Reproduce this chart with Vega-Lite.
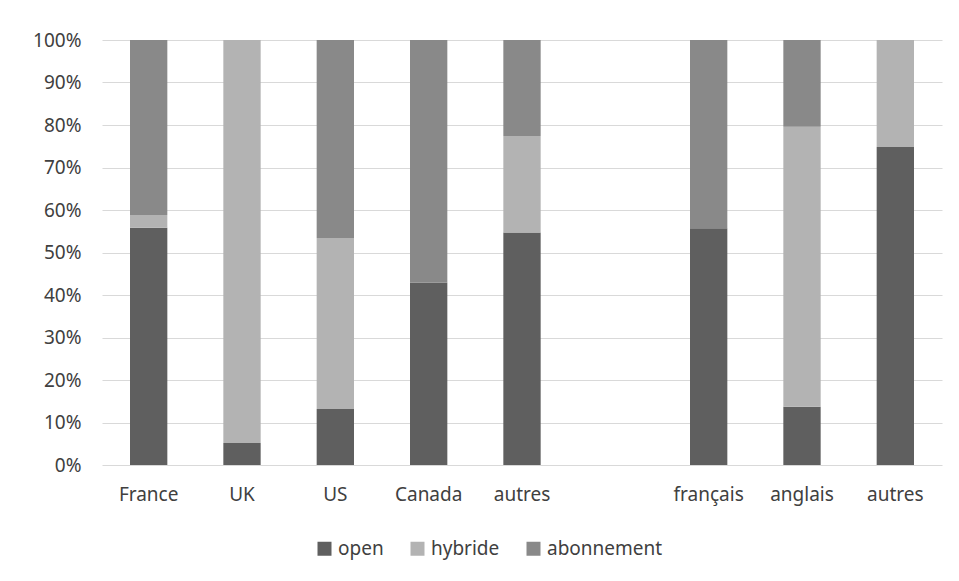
{
  "$schema": "https://vega.github.io/schema/vega-lite/v6.json",
  "width": 840,
  "height": 425,
  "autosize": {"type": "none"},
  "padding": {"left": 102, "top": 40, "right": 17, "bottom": 116},
  "background": "white",
  "config": {
    "view": {"stroke": null},
    "font": "Noto Sans",
    "axis": {"labelFont": "Noto Sans", "labelFontSize": 19, "labelColor": "#404040"},
    "legend": {"labelFont": "Noto Sans", "labelFontSize": 19, "labelColor": "#404040"}
  },
  "data": {
    "values": [
      {"cat": "France", "serie": "open", "k": 1, "v": 0.558},
      {"cat": "France", "serie": "hybride", "k": 2, "v": 0.030},
      {"cat": "France", "serie": "abonnement", "k": 3, "v": 0.412},
      {"cat": "UK", "serie": "open", "k": 1, "v": 0.052},
      {"cat": "UK", "serie": "hybride", "k": 2, "v": 0.948},
      {"cat": "UK", "serie": "abonnement", "k": 3, "v": 0.0},
      {"cat": "US", "serie": "open", "k": 1, "v": 0.132},
      {"cat": "US", "serie": "hybride", "k": 2, "v": 0.402},
      {"cat": "US", "serie": "abonnement", "k": 3, "v": 0.466},
      {"cat": "Canada", "serie": "open", "k": 1, "v": 0.429},
      {"cat": "Canada", "serie": "hybride", "k": 2, "v": 0.0},
      {"cat": "Canada", "serie": "abonnement", "k": 3, "v": 0.571},
      {"cat": "autres", "serie": "open", "k": 1, "v": 0.547},
      {"cat": "autres", "serie": "hybride", "k": 2, "v": 0.227},
      {"cat": "autres", "serie": "abonnement", "k": 3, "v": 0.226},
      {"cat": "français", "serie": "open", "k": 1, "v": 0.557},
      {"cat": "français", "serie": "hybride", "k": 2, "v": 0.0},
      {"cat": "français", "serie": "abonnement", "k": 3, "v": 0.443},
      {"cat": "anglais", "serie": "open", "k": 1, "v": 0.137},
      {"cat": "anglais", "serie": "hybride", "k": 2, "v": 0.659},
      {"cat": "anglais", "serie": "abonnement", "k": 3, "v": 0.204},
      {"cat": "autres2", "serie": "open", "k": 1, "v": 0.748},
      {"cat": "autres2", "serie": "hybride", "k": 2, "v": 0.252},
      {"cat": "autres2", "serie": "abonnement", "k": 3, "v": 0.0}
    ]
  },
  "mark": {"type": "bar"},
  "encoding": {
    "x": {
      "field": "cat",
      "type": "nominal",
      "scale": {
        "domain": ["France", "UK", "US", "Canada", "autres", "gap", "français", "anglais", "autres2"],
        "paddingInner": 0.6,
        "paddingOuter": 0.3
      },
      "axis": {
        "title": null,
        "labelAngle": 0,
        "domain": false,
        "ticks": false,
        "labelPadding": 20,
        "labelExpr": "datum.value == 'gap' ? '' : (datum.value == 'autres2' ? 'autres' : datum.value)"
      }
    },
    "y": {
      "field": "v",
      "type": "quantitative",
      "stack": "zero",
      "scale": {"domain": [0, 1], "nice": false},
      "axis": {
        "title": null,
        "format": ".0%",
        "values": [0, 0.1, 0.2, 0.3, 0.4, 0.5, 0.6, 0.7, 0.8, 0.9, 1],
        "domain": false,
        "ticks": false,
        "labelPadding": 21,
        "gridColor": "#d9d9d9",
        "gridWidth": 1
      }
    },
    "order": {"field": "k", "type": "quantitative"},
    "color": {
      "field": "serie",
      "type": "nominal",
      "scale": {
        "domain": ["open", "hybride", "abonnement"],
        "range": ["#5f5f5f", "#b3b3b3", "#898989"]
      },
      "legend": {
        "title": null,
        "orient": "none",
        "direction": "horizontal",
        "legendX": 213,
        "legendY": 499,
        "symbolType": "square",
        "symbolSize": 196,
        "symbolStrokeWidth": 0,
        "labelOffset": 4,
        "columnPadding": 24
      }
    }
  }
}
